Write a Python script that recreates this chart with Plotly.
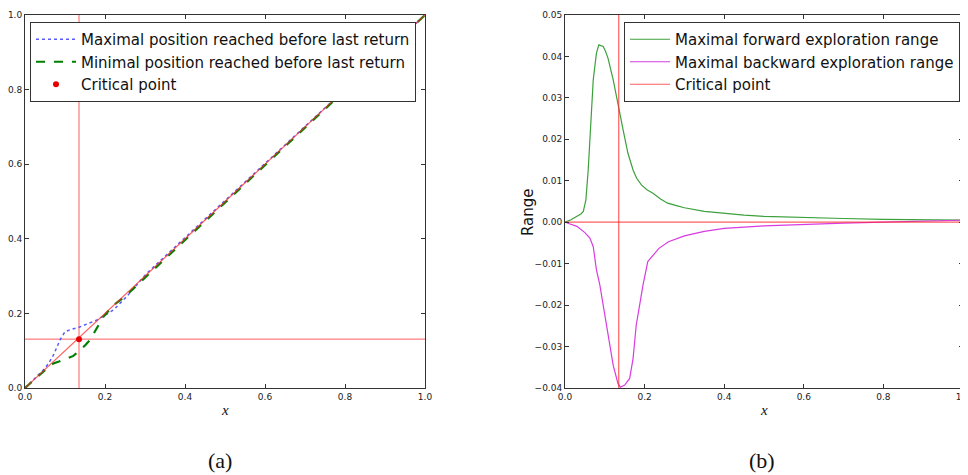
import plotly.graph_objects as go

# ---------- Data ----------
crit_x = 0.135
crit_y = 0.131

max_x = [0.0, 0.02, 0.04, 0.05, 0.06, 0.071, 0.08, 0.0875, 0.1, 0.115, 0.133, 0.155, 0.179,
         0.2, 0.221, 0.254, 0.304, 0.4, 0.5, 0.6, 0.7, 0.8, 0.9, 0.99, 1.0]
max_y = [0.0, 0.02, 0.042, 0.053, 0.068, 0.088, 0.108, 0.129, 0.151, 0.157, 0.162, 0.171, 0.182,
         0.195, 0.209, 0.245, 0.307, 0.403, 0.502, 0.602, 0.701, 0.801, 0.9, 0.99, 1.0]

min_x = [0.0, 0.02, 0.04, 0.05, 0.06, 0.071, 0.085, 0.096, 0.11, 0.121, 0.1375, 0.15, 0.1625,
         0.179, 0.196, 0.221, 0.25, 0.296, 0.4, 0.5, 0.6, 0.7, 0.8, 0.9, 0.99, 1.0]
min_y = [0.0, 0.02, 0.04, 0.048, 0.057, 0.066, 0.071, 0.075, 0.08, 0.086, 0.102, 0.114, 0.129,
         0.16, 0.191, 0.222, 0.245, 0.292, 0.397, 0.497, 0.598, 0.698, 0.798, 0.898, 0.99, 1.0]

diag_x = [0.0, 1.0]
diag_y = [0.0, 1.0]

fwd_x = [0.0, 0.015, 0.029, 0.04, 0.046, 0.0525, 0.0583, 0.064, 0.071, 0.079, 0.085, 0.09,
         0.096, 0.102, 0.108, 0.121, 0.133, 0.146, 0.158, 0.171, 0.18, 0.192, 0.205, 0.221,
         0.24, 0.258, 0.28, 0.3, 0.35, 0.4, 0.45, 0.5, 0.6, 0.7, 0.8, 0.9, 1.0]
fwd_y = [0.0, 0.0006, 0.0014, 0.002, 0.0026, 0.0054, 0.0126, 0.0223, 0.0344, 0.0408, 0.0428, 0.0426,
         0.0424, 0.0412, 0.0396, 0.0344, 0.0283, 0.0223, 0.0167, 0.0126, 0.0106, 0.009, 0.0079, 0.007,
         0.0056, 0.0046, 0.004, 0.0035, 0.0026, 0.0021, 0.0017, 0.0014, 0.0011, 0.0009, 0.0007, 0.0006, 0.0005]

bwd_x = [0.0, 0.015, 0.03, 0.05, 0.0625, 0.071, 0.079, 0.0875, 0.104, 0.121, 0.133, 0.139,
         0.15, 0.1625, 0.171, 0.179, 0.1875, 0.196, 0.208, 0.221, 0.236, 0.26, 0.3, 0.35,
         0.4, 0.5, 0.6, 0.7, 0.8, 0.9, 1.0]
bwd_y = [0.0, -0.0005, -0.001, -0.0025, -0.0038, -0.0059, -0.0115, -0.0151, -0.0248, -0.0345,
         -0.0389, -0.0398, -0.0393, -0.0377, -0.0329, -0.0248, -0.02, -0.0151, -0.0095, -0.0079,
         -0.0063, -0.0047, -0.0033, -0.0022, -0.0015, -0.0009, -0.0005, -0.0002, 0.0, 0.0003, 0.0005]

x_ticks = [0.0, 0.2, 0.4, 0.6, 0.8, 1.0]
y1_ticks = [0.0, 0.2, 0.4, 0.6, 0.8, 1.0]
y2_ticks = [-0.04, -0.03, -0.02, -0.01, 0.0, 0.01, 0.02, 0.03, 0.04, 0.05]

RED = "rgba(255,40,40,0.75)"

fig = go.Figure()

# ---------- Panel (a) ----------
fig.add_trace(go.Scatter(x=[crit_x, crit_x], y=[0, 1], mode="lines",
                         line=dict(color=RED, width=1), showlegend=False, xaxis="x", yaxis="y"))
fig.add_trace(go.Scatter(x=[0, 1], y=[crit_y, crit_y], mode="lines",
                         line=dict(color=RED, width=1), showlegend=False, xaxis="x", yaxis="y"))
fig.add_trace(go.Scatter(x=max_x, y=max_y, mode="lines", name="Maximal position reached before last return",
                         line=dict(color="rgb(90,90,255)", width=1.5, dash="dot"), xaxis="x", yaxis="y",
                         legend="legend"))
fig.add_trace(go.Scatter(x=min_x, y=min_y, mode="lines", name="Minimal position reached before last return",
                         line=dict(color="rgb(0,128,0)", width=2.2, dash="dash"), xaxis="x", yaxis="y",
                         legend="legend"))
fig.add_trace(go.Scatter(x=diag_x, y=diag_y, mode="lines",
                         line=dict(color=RED, width=1.2), showlegend=False, xaxis="x", yaxis="y"))
fig.add_trace(go.Scatter(x=[crit_x], y=[crit_y], mode="markers", name="Critical point",
                         marker=dict(color="rgb(230,0,0)", size=6), xaxis="x", yaxis="y",
                         legend="legend"))

# ---------- Panel (b) ----------
fig.add_trace(go.Scatter(x=fwd_x, y=fwd_y, mode="lines", name="Maximal forward exploration range",
                         line=dict(color="rgb(60,160,60)", width=1.2), xaxis="x2", yaxis="y2",
                         legend="legend2"))
fig.add_trace(go.Scatter(x=bwd_x, y=bwd_y, mode="lines", name="Maximal backward exploration range",
                         line=dict(color="rgb(215,60,225)", width=1.2), xaxis="x2", yaxis="y2",
                         legend="legend2"))
fig.add_trace(go.Scatter(x=[crit_x, crit_x], y=[-0.04, 0.05], mode="lines", name="Critical point",
                         line=dict(color=RED, width=1.2), xaxis="x2", yaxis="y2",
                         legend="legend2"))
fig.add_trace(go.Scatter(x=[0, 1], y=[0, 0], mode="lines",
                         line=dict(color=RED, width=1.2), showlegend=False, xaxis="x2", yaxis="y2"))

W, H = 968, 475
OFF = 8  # page body margin


def px(v):
    return (v - OFF) / W


def py(v):
    return 1 - (v - OFF) / H


ydom = [py(388), py(15)]

axis_common = dict(showline=True, linecolor="#333", linewidth=1, mirror="ticks", ticks="inside",
                   ticklen=4, tickcolor="#333", showgrid=False, zeroline=False, automargin=False,
                   tickfont=dict(family="DejaVu Sans", size=9, color="#222"))


def label(text, x, y, size, family, angle=0):
    return dict(text=text, x=px(x), y=py(y), xref="paper", yref="paper", showarrow=False,
                xanchor="center", yanchor="middle", textangle=angle,
                font=dict(family=family, size=size, color="#111"))


fig.update_layout(
    width=W, height=H,
    margin=dict(l=0, r=0, t=0, b=0),
    plot_bgcolor="white", paper_bgcolor="white",
    xaxis=dict(domain=[px(25), px(425)], range=[0, 1], tickvals=x_ticks, tickformat=".1f",
               anchor="y", **axis_common),
    yaxis=dict(domain=ydom, range=[0, 1], tickvals=y1_ticks, tickformat=".1f", anchor="x",
               **axis_common),
    xaxis2=dict(domain=[px(565), px(963)], range=[0, 1], tickvals=x_ticks, tickformat=".1f",
                anchor="y2", **axis_common),
    yaxis2=dict(domain=ydom, range=[-0.04, 0.05], tickvals=y2_ticks, tickformat=".2f", anchor="x2",
                **axis_common),
    legend=dict(x=px(30), y=py(22), xanchor="left", yanchor="top", bgcolor="white",
                bordercolor="#333", borderwidth=1, font=dict(family="DejaVu Sans", size=15, color="#111"),
                itemwidth=40, tracegroupgap=0),
    legend2=dict(x=px(624), y=py(22), xanchor="left", yanchor="top", bgcolor="white",
                 bordercolor="#333", borderwidth=1, font=dict(family="DejaVu Sans", size=15, color="#111"),
                 itemwidth=40, tracegroupgap=0),
    showlegend=True,
    annotations=[
        label("<i>x</i>", 225, 410, 15, "Liberation Serif"),
        label("<i>x</i>", 764, 410, 15, "Liberation Serif"),
        label("Range", 528, 212, 15, "DejaVu Sans", angle=-90),
        label("(a)", 220, 460, 22, "Liberation Serif"),
        label("(b)", 762, 460, 22, "Liberation Serif"),
    ],
)

fig.write_html("out.html")
